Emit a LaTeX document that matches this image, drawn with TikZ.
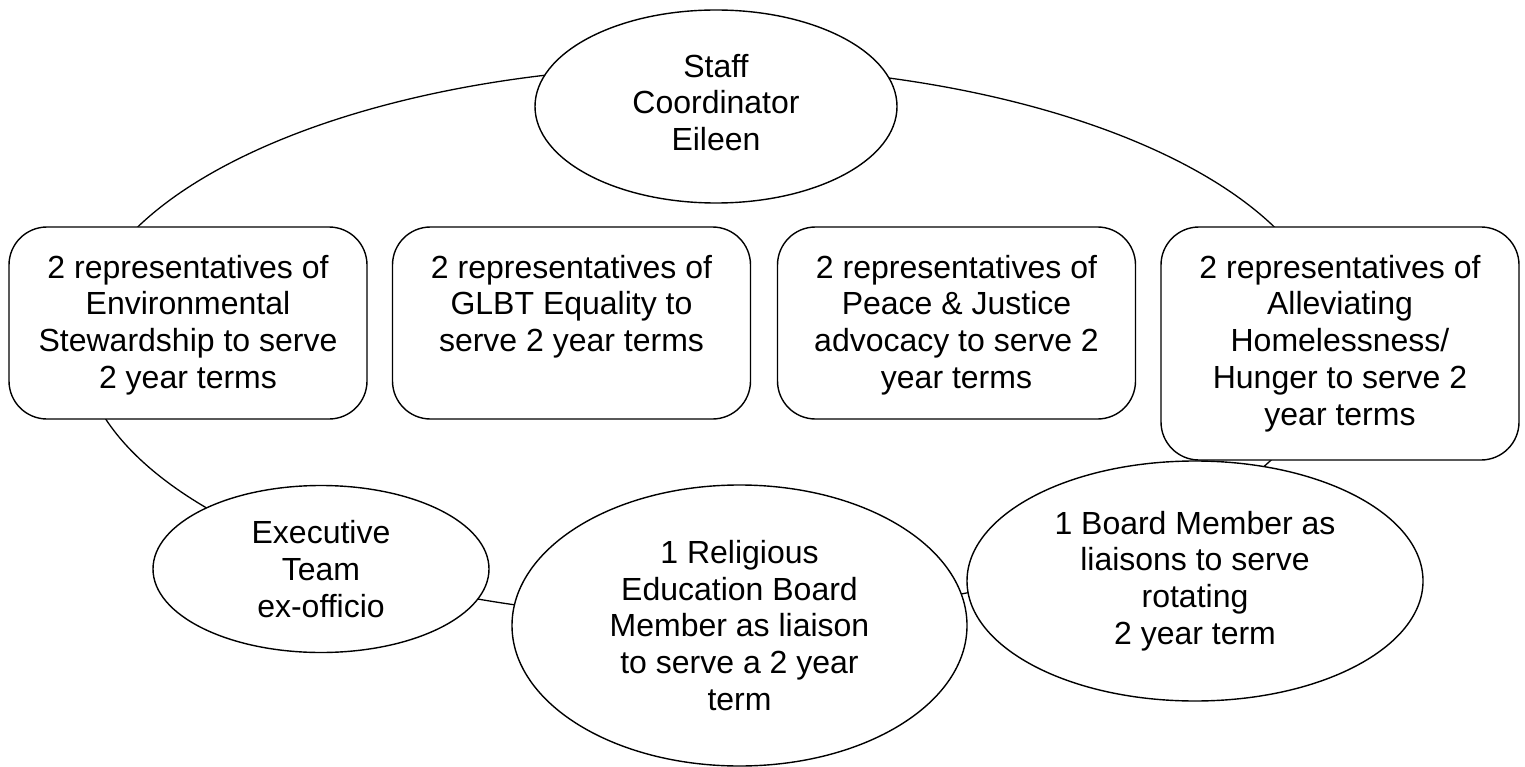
\documentclass[tikz,border=0pt]{standalone}
\usepackage{fontspec}
\setmainfont{Liberation Sans}
\usetikzlibrary{shapes.geometric}
\newcommand\rbtext[2]{\parbox[c][#1][t]{358pt}{\centering\vspace*{28pt}#2}}
\begin{document}
\begin{tikzpicture}[x=1pt,y=-1pt,
  every node/.style={font=\fontsize{32}{36.8}\selectfont},
  ring/.style={draw, line width=1.3pt, ellipse, inner sep=0pt},
  oval/.style={draw, fill=white, line width=1.4pt, ellipse, inner sep=0pt, align=center},
  rbox/.style={draw, fill=white, line width=1.4pt, rounded corners=38pt, inner sep=0pt}]
\useasboundingbox (0,0) rectangle (1525,767);
\node[ring, minimum width=1250pt, minimum height=552pt] (cycle) at (706,342) {};
\node[oval, minimum width=362pt, minimum height=193pt] (staff) at (716,106.5) {\raisebox{3pt}{\begin{tabular}{@{}c@{}}Staff\\Coordinator\\Eileen\end{tabular}}};
\node[rbox] (env) at (188,323) {\rbtext{192pt}{2 representatives of\\Environmental\\Stewardship to serve\\2 year terms}};
\node[rbox] (glbt) at (571.5,323) {\rbtext{192pt}{2 representatives of\\GLBT Equality to\\serve 2 year terms}};
\node[rbox] (peace) at (956.5,323) {\rbtext{192pt}{2 representatives of\\Peace \& Justice\\advocacy to serve 2\\year terms}};
\node[rbox] (home) at (1340,343.5) {\rbtext{233pt}{2 representatives of\\Alleviating\\Homelessness/\\Hunger to serve 2\\year terms}};
\node[oval, minimum width=336pt, minimum height=167pt] (exec) at (321,569) {Executive\\Team\\ex-officio};
\node[oval, minimum width=455pt, minimum height=281pt] (relig) at (739.5,625.5) {1 Religious\\Education Board\\Member as liaison\\to serve a 2 year\\term};
\node[oval, minimum width=456pt, minimum height=240pt] (board) at (1195,581) {1 Board Member as\\liaisons to serve\\rotating\\2 year term};
\end{tikzpicture}
\end{document}
